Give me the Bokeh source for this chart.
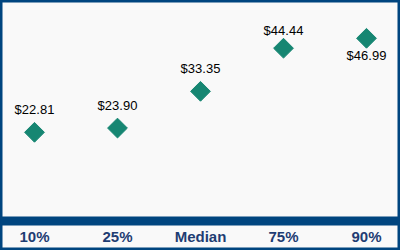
from bokeh.plotting import figure
from bokeh.models import ColumnDataSource, Range1d, Span
from bokeh.core.properties import value
from bokeh.embed import file_html
from bokeh.resources import INLINE
import numpy as np

categories = ["10%", "25%", "Median", "75%", "90%"]
wages = [22.81, 23.90, 33.35, 44.44, 46.99]
labels = ["$22.81", "$23.90", "$33.35", "$44.44", "$46.99"]

xs = list(range(len(categories)))
label_offsets = [-23, -23, -23, -18, 17]

src = ColumnDataSource(dict(x=xs, y=wages, label=labels, off=label_offsets))
cat_src = ColumnDataSource(dict(x=xs, y=[0] * len(xs), cat=categories))

BLUE = "#00457f"
p = figure(width=400, height=250, output_backend="svg", toolbar_location=None,
           x_range=Range1d(-0.4096, 4.4096), y_range=Range1d(-7.59, 56.71),
           min_border=0, x_axis_location=None, y_axis_location=None)
p.background_fill_color = "#f9f9f9"
p.border_fill_color = "#f9f9f9"
p.outline_line_color = BLUE
p.outline_line_width = 4
p.grid.visible = False

# thick baseline band at zero
p.add_layout(Span(location=0, dimension="width", line_color=BLUE, line_width=9, level="underlay"))

# category labels under the band
p.text("x", "y", text="cat", source=cat_src, y_offset=16,
       text_align="center", text_baseline="alphabetic",
       text_font=value("Liberation Sans"), text_font_style="bold",
       text_font_size="15px", text_color="#1f3d73")

p.scatter("x", "y", source=src, marker="square", size=14, angle=np.pi / 4,
          fill_color="#168672", line_color="#168672")
p.text("x", "y", text="label", source=src, y_offset="off",
       text_align="center", text_baseline="alphabetic",
       text_font=value("Liberation Sans"),
       text_font_size="13px", text_color="#000000")

open("out.html", "w").write(file_html(p, INLINE))
